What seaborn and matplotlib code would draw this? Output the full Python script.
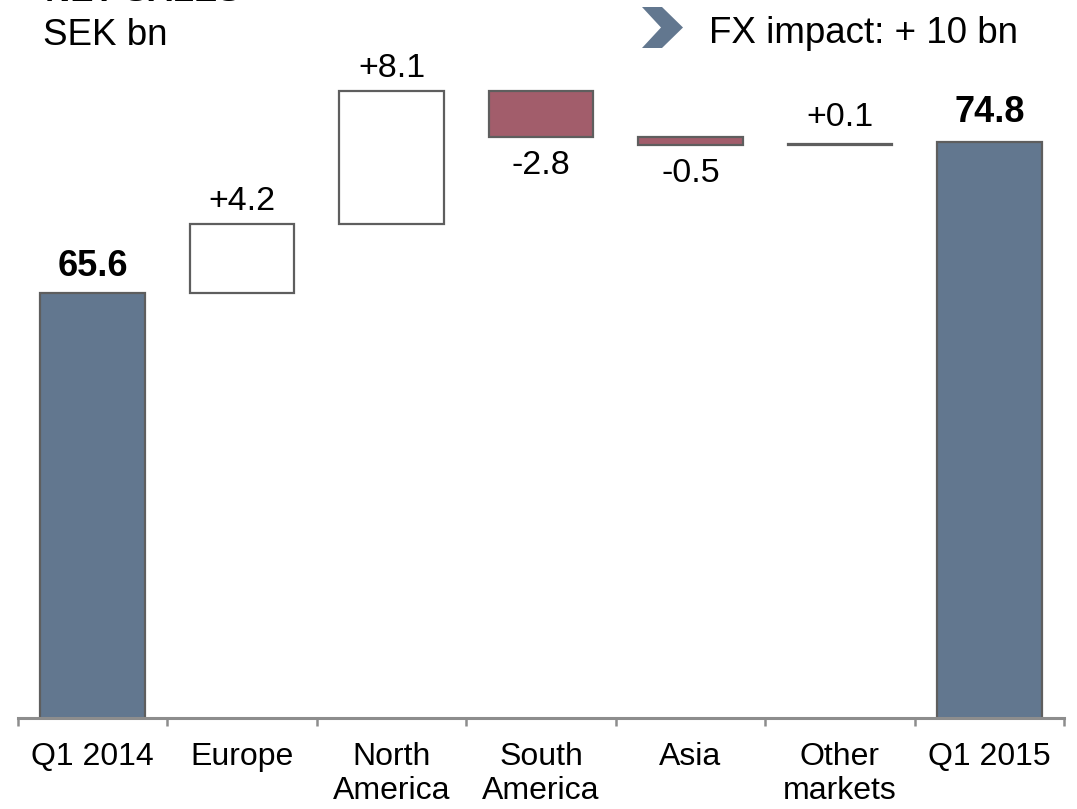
import matplotlib
matplotlib.use("Agg")
import matplotlib.pyplot as plt
from matplotlib.patches import Polygon
from matplotlib.ticker import FixedLocator
import numpy as np
import pandas as pd
import seaborn as sns

# Net sales bridge, SEK bn
categories = ["Q1 2014", "Europe", "North\nAmerica", "South\nAmerica", "Asia", "Other\nmarkets", "Q1 2015"]
changes = [65.6, 4.2, 8.1, -2.8, -0.5, 0.1, 74.8]
kinds = ["total", "delta", "delta", "delta", "delta", "delta", "total"]
value_labels = ["65.6", "+4.2", "+8.1", "-2.8", "-0.5", "+0.1", "74.8"]

# distance (pt) of each value label's baseline from its bar edge
label_pad_pt = [12.2, 10, 10, 26.5, 26.5, 13, 14.5]

sns.set_theme(style="white")
plt.rcParams["font.family"] = ["Liberation Sans", "DejaVu Sans"]

# waterfall geometry
bottoms, heights = [], []
level = 0.0
for v, k in zip(changes, kinds):
    if k == "total":
        bottoms.append(0.0)
        heights.append(v)
        level = v
    else:
        if v >= 0:
            bottoms.append(level)
            heights.append(v)
        else:
            bottoms.append(level + v)
            heights.append(-v)
        level += v

df = pd.DataFrame({"category": categories, "height": heights, "bottom": bottoms})

W, H = 1077, 809
fig = plt.figure(figsize=(W / 100, H / 100), dpi=100)
ax = fig.add_axes([18 / W, 91 / H, (1064 - 18) / W, 718 / H])

TOTAL = "#62778F"
NEG = "#A25D6B"
EDGE = "#5E5E5E"
AXIS = "#8D8D8D"

sns.barplot(data=df, x="category", y="height", order=categories,
            bottom=df["bottom"].to_numpy(), width=0.7, color=TOTAL,
            edgecolor=EDGE, linewidth=1.6, errorbar=None, ax=ax)

for patch, v, k in zip(ax.patches, changes, kinds):
    if k == "total":
        patch.set_facecolor(TOTAL)
    elif v < 0:
        patch.set_facecolor(NEG)
    else:
        patch.set_facecolor("white")

ax.set_xlim(-0.5, len(categories) - 0.5)
ax.set_ylim(39.7, 83.45)

# value labels
for i, (b, h, v, k, txt, pad) in enumerate(zip(bottoms, heights, changes, kinds,
                                               value_labels, label_pad_pt)):
    if k == "total":
        ax.annotate(txt, xy=(i, b + h), xytext=(0, pad), textcoords="offset points",
                    ha="center", va="baseline", fontsize=26, fontweight="bold",
                    color="black")
    elif v >= 0:
        ax.annotate(txt, xy=(i, b + h), xytext=(0, pad), textcoords="offset points",
                    ha="center", va="baseline", fontsize=24.5, color="black")
    else:
        ax.annotate(txt, xy=(i, b), xytext=(0, -pad), textcoords="offset points",
                    ha="center", va="baseline", fontsize=24.5, color="black")

# axis styling
ax.set_xlabel("")
ax.set_ylabel("")
ax.set_yticks([])
for s in ["left", "top", "right"]:
    ax.spines[s].set_visible(False)
ax.spines["bottom"].set_color(AXIS)
ax.spines["bottom"].set_linewidth(2.2)
ax.set_xticks(range(len(categories)))
ax.set_xticklabels(categories, fontsize=23, color="black", linespacing=1.15)
ax.tick_params(axis="x", which="major", length=0, pad=17.5)
ax.xaxis.set_minor_locator(FixedLocator(np.arange(-0.5, len(categories), 1.0)))
ax.tick_params(axis="x", which="minor", bottom=True, length=6, width=1.8,
               color=AXIS, direction="out")

# header texts
fig.text(45 / W, 1 - 1 / H, "NET SALES", fontsize=25, fontweight="bold",
         va="baseline", ha="left", color="black")
fig.text(43 / W, 1 - 45 / H, "SEK bn", fontsize=26.5, va="baseline", ha="left",
         color="black")
fig.text(709 / W, 1 - 43 / H, "FX impact: + 10 bn", fontsize=26.5,
         va="baseline", ha="left", color="black")

# chevron marker
chev_px = [(642, 7), (662, 7), (683, 27.5), (662, 48), (642, 48), (661, 27.5)]
chev = Polygon([(x / W, 1 - y / H) for x, y in chev_px], closed=True,
               transform=fig.transFigure, facecolor=TOTAL, edgecolor="none")
fig.patches.append(chev)

fig.savefig("out.png", dpi=100)
